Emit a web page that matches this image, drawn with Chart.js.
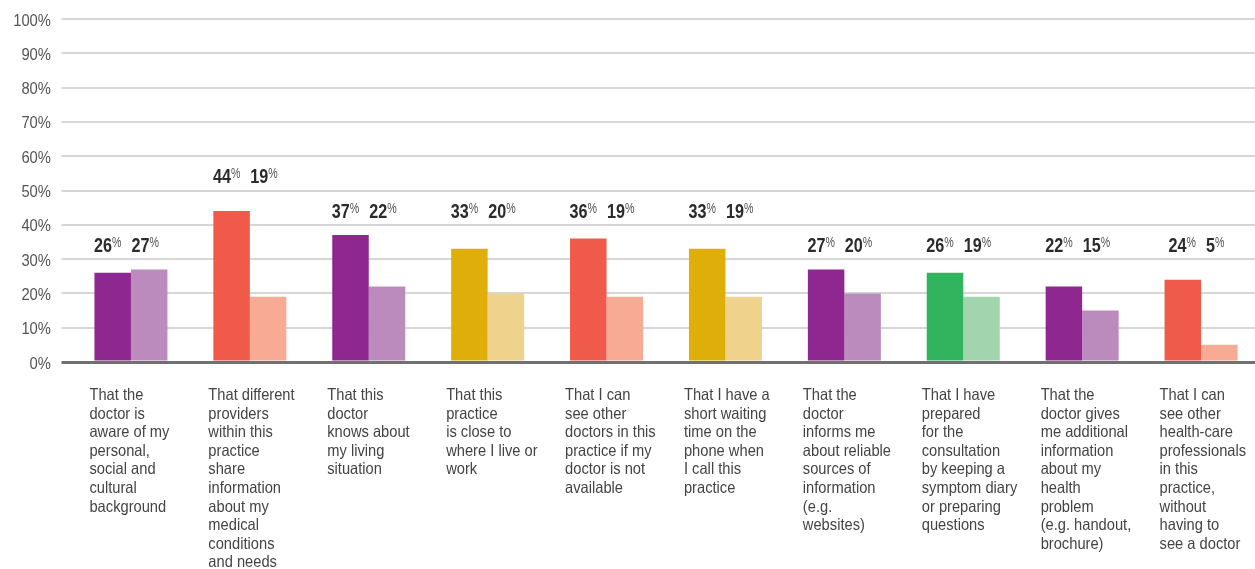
<!DOCTYPE html>
<html>
<head>
<meta charset="utf-8">
<script src="https://cdn.jsdelivr.net/npm/chart.js@4/dist/chart.umd.min.js"></script>
<style>
  html, body { margin: 0; padding: 0; background: #fff; overflow: hidden; }
  canvas { display: block; }
</style>
</head>
<body>
<canvas id="chart" width="1262" height="569"></canvas>
<script>
// Survey statements (wrapped as printed under each pair of bars)
const categories = [
  ["That the", "doctor is", "aware of my", "personal,", "social and", "cultural", "background"],
  ["That different", "providers", "within this", "practice", "share", "information", "about my", "medical", "conditions", "and needs"],
  ["That this", "doctor", "knows about", "my living", "situation"],
  ["That this", "practice", "is close to", "where I live or", "work"],
  ["That I can", "see other", "doctors in this", "practice if my", "doctor is not", "available"],
  ["That I have a", "short waiting", "time on the", "phone when", "I call this", "practice"],
  ["That the", "doctor", "informs me", "about reliable", "sources of", "information", "(e.g.", "websites)"],
  ["That I have", "prepared", "for the", "consultation", "by keeping a", "symptom diary", "or preparing", "questions"],
  ["That the", "doctor gives", "me additional", "information", "about my", "health", "problem", "(e.g. handout,", "brochure)"],
  ["That I can", "see other", "health-care", "professionals", "in this", "practice,", "without", "having to", "see a doctor"]
];

// Percentages for the two bars in each group
const firstValues  = [26, 44, 37, 33, 36, 33, 27, 26, 22, 24];
const secondValues = [27, 19, 22, 20, 19, 19, 20, 19, 15, 5];

// Y axis tick values
const yTicks = [0, 10, 20, 30, 40, 50, 60, 70, 80, 90, 100];

// Colour theme of each group (dark bar, light bar)
const groupThemes = ["purple", "red", "purple", "yellow", "red", "yellow", "purple", "green", "purple", "red"];
const palette = {
  purple: ["#8E278F", "#BC8BBE"],
  red:    ["#F05A4A", "#F7AB94"],
  yellow: ["#DEAF0B", "#EFD28C"],
  green:  ["#32B45E", "#A2D5AD"]
};

const FONT = "'Liberation Sans', Arial, sans-serif";

// Draws a horizontally condensed run of text
function condensedText(ctx, text, x, y, font, color, align, sx) {
  ctx.save();
  ctx.font = font;
  ctx.fillStyle = color;
  ctx.textAlign = align;
  ctx.textBaseline = "alphabetic";
  ctx.translate(x, y);
  ctx.scale(sx, 1);
  ctx.fillText(text, 0, 0);
  ctx.restore();
}
function condensedWidth(ctx, text, font, sx) {
  ctx.save();
  ctx.font = font;
  const w = ctx.measureText(text).width * sx;
  ctx.restore();
  return w;
}

// Axis labels in a condensed face, placed from the chart's scales
const axisLabels = {
  id: "axisLabels",
  afterDraw(chart) {
    const ctx = chart.ctx;
    const xs = chart.scales.x, ys = chart.scales.y;
    // y axis: percentages, right aligned left of the grid
    ys.ticks.forEach(t => {
      const py = ys.getPixelForValue(t.value);
      condensedText(ctx, t.value + "%", xs.left - 20.5, py + 6.5, "17px " + FONT, "#555", "right", 0.87);
    });
    // x axis: wrapped statements, left aligned under each group
    categories.forEach((lines, i) => {
      const px = xs.getPixelForValue(i) - 41.5;
      lines.forEach((line, k) => {
        condensedText(ctx, line, px, ys.bottom + 38 + k * 18.6, "16.5px " + FONT, "#444", "left", 0.89);
      });
    });
  }
};

// Paired value labels written above each group
const valueLabels = {
  id: "valueLabels",
  afterDatasetsDraw(chart) {
    const ctx = chart.ctx;
    const ys = chart.scales.y, xs = chart.scales.x;
    const numFont = "bold 21px " + FONT, pctFont = "14px " + FONT;
    const sxNum = 0.77, sxPct = 0.76;
    categories.forEach((_, i) => {
      const a = firstValues[i], b = secondValues[i];
      const level = Math.ceil(Math.max(a, b) / 10) * 10 + 5;
      const base = ys.getPixelForValue(level) + 10;
      const parts = [
        { t: String(a), f: numFont, sx: sxNum, c: "#2b2b2b", dy: 0 },
        { t: "%", f: pctFont, sx: sxPct, c: "#555", dy: -5 },
        { gap: 10 },
        { t: String(b), f: numFont, sx: sxNum, c: "#2b2b2b", dy: 0 },
        { t: "%", f: pctFont, sx: sxPct, c: "#555", dy: -5 }
      ];
      let total = 0;
      parts.forEach(p => { p.w = p.gap ? p.gap : condensedWidth(ctx, p.t, p.f, p.sx); total += p.w; });
      let x = xs.getPixelForValue(i) - total / 2 - 4.5;
      parts.forEach(p => {
        if (!p.gap) condensedText(ctx, p.t, x, base + p.dy, p.f, p.c, "left", p.sx);
        x += p.w;
      });
    });
  }
};

new Chart(document.getElementById("chart"), {
  type: "bar",
  data: {
    labels: categories,
    datasets: [
      {
        data: firstValues,
        backgroundColor: groupThemes.map(g => palette[g][0]),
        borderWidth: 0,
        barPercentage: 1,
        categoryPercentage: 0.614
      },
      {
        data: secondValues,
        backgroundColor: groupThemes.map(g => palette[g][1]),
        borderWidth: 0,
        barPercentage: 1,
        categoryPercentage: 0.614
      }
    ]
  },
  options: {
    responsive: false,
    animation: false,
    devicePixelRatio: 1,
    layout: { padding: { top: 19, right: 1.5, left: 0, bottom: 0 } },
    plugins: {
      legend: { display: false },
      tooltip: { enabled: false }
    },
    scales: {
      x: {
        grid: { display: false, drawTicks: false },
        border: { display: false },
        ticks: { display: false, autoSkip: false, maxRotation: 0, minRotation: 0 },
        afterFit(scale) { scale.height = 207; }
      },
      y: {
        min: 0,
        max: 100,
        afterBuildTicks(scale) { scale.ticks = yTicks.map(v => ({ value: v })); },
        grid: {
          color: c => (c.tick && c.tick.value === 0) ? "#707070" : "#D6D6D6",
          lineWidth: c => (c.tick && c.tick.value === 0) ? 3 : 2,
          tickLength: 10
        },
        border: { display: false },
        ticks: { display: false },
        afterFit(scale) { scale.width = 71.5; }
      }
    }
  },
  plugins: [valueLabels, axisLabels]
});
</script>
</body>
</html>
